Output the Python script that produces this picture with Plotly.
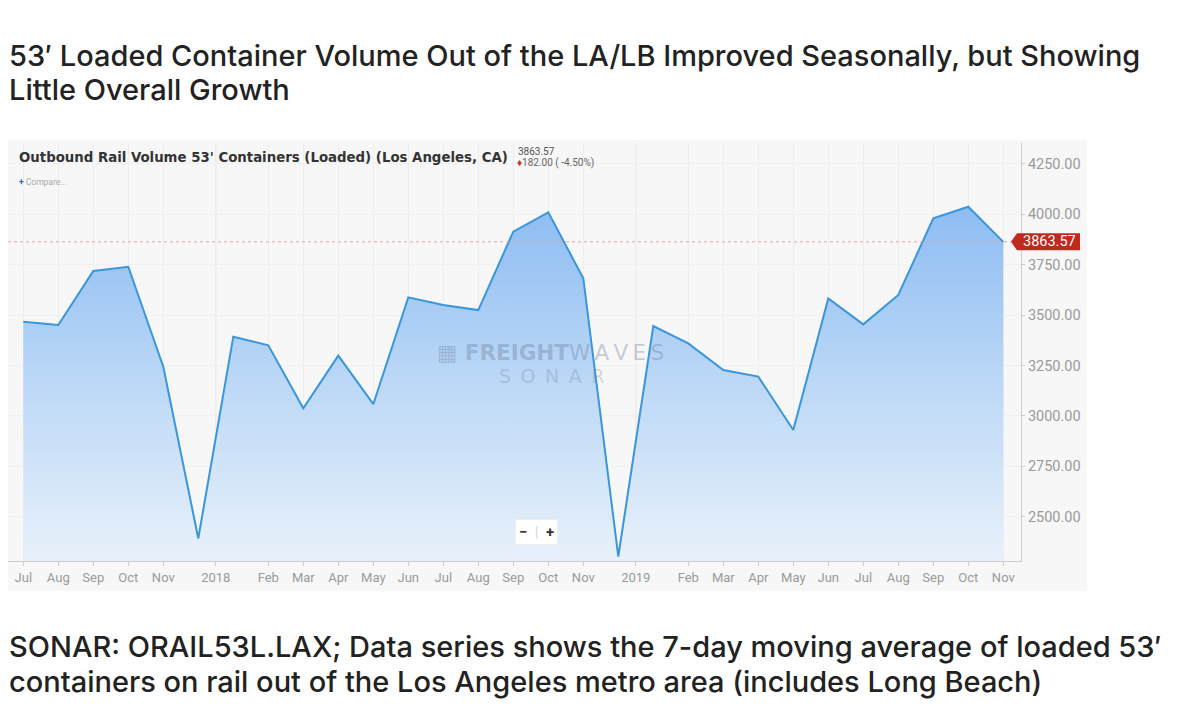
import plotly.graph_objects as go

# ---------------- data ----------------
months = ["2017-07", "2017-08", "2017-09", "2017-10", "2017-11", "2017-12",
          "2018-01", "2018-02", "2018-03", "2018-04", "2018-05", "2018-06",
          "2018-07", "2018-08", "2018-09", "2018-10", "2018-11", "2018-12",
          "2019-01", "2019-02", "2019-03", "2019-04", "2019-05", "2019-06",
          "2019-07", "2019-08", "2019-09", "2019-10", "2019-11"]
values = [3467, 3451, 3719, 3740, 3244, 2392,
          3393, 3350, 3038, 3299, 3058, 3588,
          3550, 3525, 3914, 4010, 3683, 2302,
          3446, 3360, 3228, 3195, 2930, 3583,
          3454, 3600, 3980, 4038, 3863.57]
tick_text = ["Jul", "Aug", "Sep", "Oct", "Nov", "2018", "Feb", "Mar", "Apr", "May",
             "Jun", "Jul", "Aug", "Sep", "Oct", "Nov", "2019", "Feb", "Mar", "Apr",
             "May", "Jun", "Jul", "Aug", "Sep", "Oct", "Nov"]
tick_pos = [0, 1, 2, 3, 4, 5.5, 7, 8, 9, 10,
            11, 12, 13, 14, 15, 16, 17.5, 19, 20, 21,
            22, 23, 24, 25, 26, 27, 28]
y_ticks = [2500, 2750, 3000, 3250, 3500, 3750, 4000, 4250]
year_marks = [5.5, 17.5]
last_value = 3863.57
change_text = "182.00 ( -4.50%)"

title_lines = ["53\u2032 Loaded Container Volume Out of the LA/LB Improved Seasonally, but Showing",
               "Little Overall Growth"]
caption_lines = ["SONAR: ORAIL53L.LAX; Data series shows the 7-day moving average of loaded 53\u2032",
                 "containers on rail out of the Los Angeles metro area (includes Long Beach)"]
chart_header = "Outbound Rail Volume 53' Containers (Loaded) (Los Angeles, CA)"

# ---------------- layout geometry (pixels) ----------------
W, H = 1200, 719
L, R, T, B = 8, 1021, 143, 561


def px_x(x):
    return (x - L) / (R - L)


def px_y(y):
    return (B - y) / (B - T)


x_idx = list(range(len(values)))

fig = go.Figure()
fig.add_trace(go.Scatter(
    x=x_idx, y=values, mode="lines",
    line=dict(color="#3a96dc", width=2),
    fill="tozeroy",
    fillgradient=dict(type="vertical", start=2280, stop=4040,
                      colorscale=[[0, "#e8f1fb"], [0.5, "#bcd8f6"], [1, "#8dbcf3"]]),
    hoverinfo="skip", showlegend=False,
))

shapes = [
    dict(type="rect", xref="paper", yref="paper",
         x0=px_x(8), x1=px_x(1087), y0=px_y(591), y1=px_y(140),
         fillcolor="#f7f7f7", line=dict(width=0), layer="below"),
    dict(type="line", xref="paper", yref="y", x0=0, x1=px_x(1011),
         y0=last_value, y1=last_value,
         line=dict(color="#e3a3a3", width=1, dash="3px,3px"), layer="above"),
    dict(type="path", xref="paper", yref="y", xsizemode="pixel", ysizemode="pixel",
         xanchor=1, yanchor=last_value,
         path="M -10,0 L -4,8.5 L 59,8.5 L 59,-8.5 L -4,-8.5 Z",
         fillcolor="#bf2a1f", line=dict(width=0), layer="above"),
]
for ym in year_marks:
    shapes.append(dict(type="line", xref="x", yref="paper", x0=ym, x1=ym, y0=0, y1=1,
                       line=dict(color="#e2e2e2", width=1), layer="below"))

big_font = dict(family="Inter, Roboto, sans-serif", size=29, color="#222222", weight=500)
annotations = []
for i, line in enumerate(title_lines):
    annotations.append(dict(text=line, xref="paper", yref="paper",
                            x=px_x(7), y=px_y(55 + 35 * i), xanchor="left", yanchor="middle",
                            showarrow=False, font=big_font))
for i, line in enumerate(caption_lines):
    annotations.append(dict(text=line, xref="paper", yref="paper",
                            x=px_x(7), y=px_y(646 + 35 * i), xanchor="left", yanchor="middle",
                            showarrow=False, font=big_font))

thin = "\u2009"
annotations += [
    dict(text="<b>" + chart_header + "</b>", xref="paper", yref="paper",
         x=px_x(17), y=px_y(157), xanchor="left", yanchor="middle", showarrow=False,
         font=dict(family="DejaVu Sans Condensed, sans-serif", size=14.8, color="#333333")),
    dict(text=f"{last_value:.2f}", xref="paper", yref="paper",
         x=px_x(516), y=px_y(151), xanchor="left", yanchor="middle", showarrow=False,
         font=dict(family="Roboto, sans-serif", size=10, color="#555555")),
    dict(text="<span style='color:#d0312d'>\u2666</span>" + change_text, xref="paper", yref="paper",
         x=px_x(515), y=px_y(163), xanchor="left", yanchor="middle", showarrow=False,
         font=dict(family="Roboto, sans-serif", size=10, color="#666666")),
    dict(text="<span style='color:#2a6ebb'><b>+</b></span> Compare...", xref="paper", yref="paper",
         x=px_x(17), y=px_y(182), xanchor="left", yanchor="middle", showarrow=False,
         font=dict(family="Roboto, sans-serif", size=8.5, color="#aaaaaa")),
    dict(text=f"{last_value:.2f}", xref="paper", yref="y",
         x=px_x(1049), y=last_value, xanchor="center", yanchor="middle", showarrow=False,
         font=dict(family="Roboto, sans-serif", size=14.5, color="#ffffff")),
    # watermark
    dict(text="<b>\u25a6 FREIGHT</b>" + thin.join("WAVES"), xref="paper", yref="paper",
         x=px_x(550), y=px_y(352), xanchor="center", yanchor="middle", showarrow=False,
         font=dict(family="DejaVu Sans, sans-serif", size=21.5, color="rgba(105,120,145,0.36)")),
    dict(text="\u2002".join("SONAR"), xref="paper", yref="paper",
         x=px_x(551), y=px_y(376), xanchor="center", yanchor="middle", showarrow=False,
         font=dict(family="DejaVu Sans, sans-serif", size=19, color="rgba(105,120,145,0.27)")),
    # zoom buttons
    dict(text="<b>\u2212</b>  <span style='color:#d8d8d8'>|</span>  <b>+</b>", xref="paper", yref="paper",
         x=px_x(536), y=px_y(532), xanchor="center", yanchor="middle", showarrow=False,
         bgcolor="#ffffff", bordercolor="#efefef", borderwidth=1, borderpad=3,
         font=dict(family="Roboto, sans-serif", size=15, color="#333333")),
]

fig.update_layout(
    width=W, height=H,
    margin=dict(l=L, r=W - R, t=T, b=H - B, pad=0),
    paper_bgcolor="#ffffff",
    plot_bgcolor="rgba(0,0,0,0)",
    showlegend=False,
    hovermode=False,
    shapes=shapes,
    annotations=annotations,
    xaxis=dict(
        range=[-0.437, 28.506], tickmode="array", tickvals=tick_pos, ticktext=tick_text,
        showgrid=True, gridcolor="#eeeeee", gridwidth=1, zeroline=False,
        showline=True, linecolor="#cccccc", linewidth=1,
        ticks="outside", ticklen=4, tickcolor="#cccccc",
        tickfont=dict(family="Roboto, sans-serif", size=13, color="#9a9a9a"),
        fixedrange=True,
    ),
    yaxis=dict(
        side="right", range=[2280, 4354], tickmode="array", tickvals=y_ticks,
        tickformat=".2f",
        showgrid=True, gridcolor="#f0f0f0", zeroline=False,
        showline=True, linecolor="#cccccc", linewidth=1,
        ticks="outside", ticklen=3, tickcolor="#cccccc",
        tickfont=dict(family="Roboto, sans-serif", size=14.5, color="#9a9a9a"),
        fixedrange=True,
    ),
)

fig.write_html("out.html", config={"displayModeBar": False},
               post_script="document.body.style.margin='0';")
